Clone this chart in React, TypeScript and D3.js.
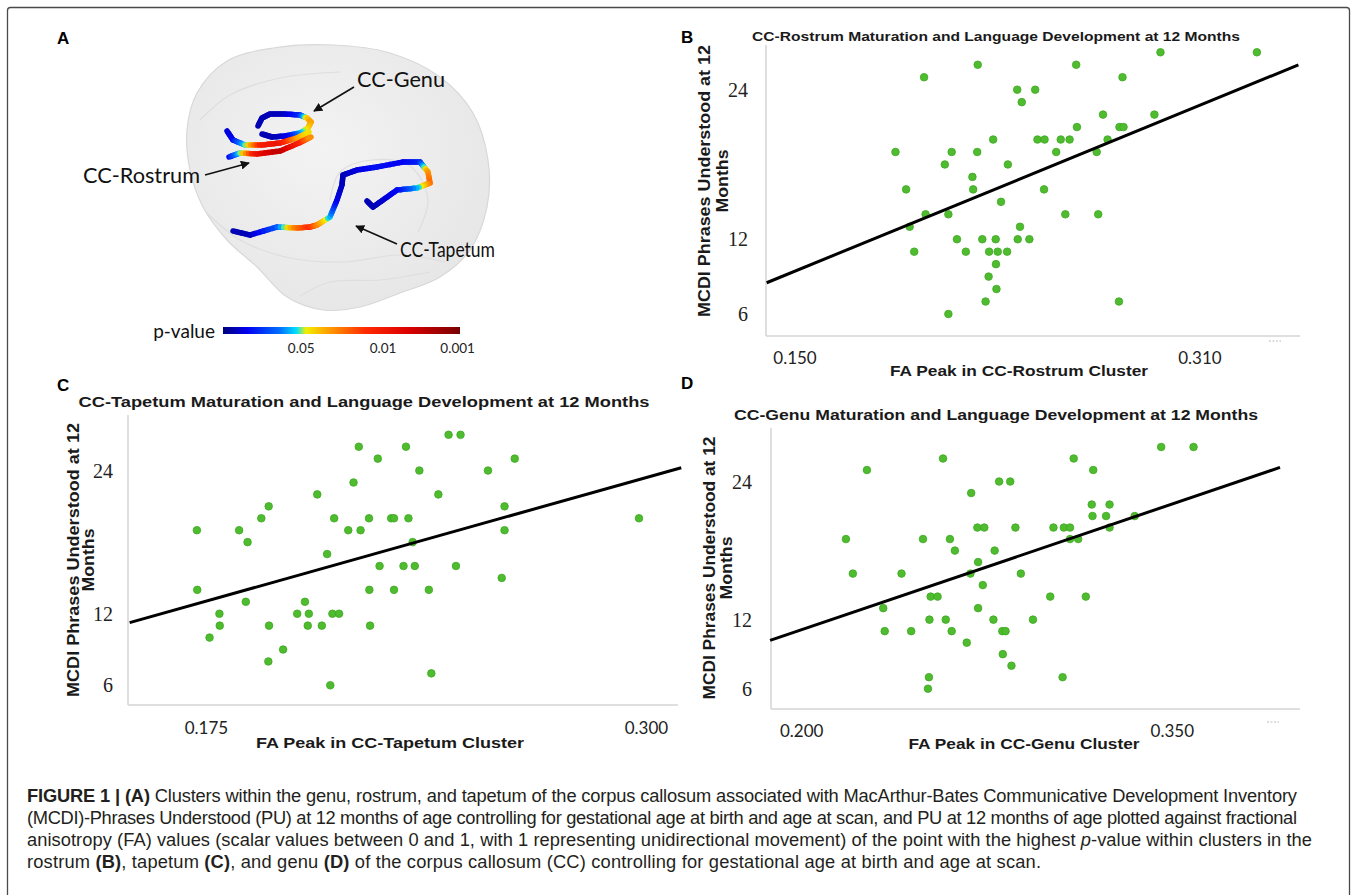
import React from "react"
import * as d3 from "d3"

const W = 1357
const H = 895

// PU score levels (MCDI phrases understood at 12 months), top row first
const puLevels = [27, 26, 25, 24, 23, 22, 21, 20, 19, 18, 17, 16, 15, 14, 13, 12, 11, 10, 9, 8, 7, 6]

// FA peak of every child, grouped by the PU level above
const rostrumFA = [
    [0.2944, 0.3325], [0.2222, 0.2611], [0.201, 0.2794], [0.2378, 0.2449], [0.2396],
    [0.2717, 0.292], [0.2614, 0.2782, 0.2798], [0.2283, 0.2458, 0.2486, 0.255, 0.2585, 0.2735],
    [0.1897, 0.2119, 0.222, 0.2532, 0.2692], [0.2092, 0.2341], [0.2201], [0.1939, 0.2204, 0.2484],
    [0.2314], [0.2016, 0.2106, 0.2568, 0.2698], [0.1953, 0.2389], [0.214, 0.224, 0.2293, 0.238, 0.2426],
    [0.1971, 0.2175, 0.2267, 0.2301, 0.2338], [0.2294], [0.2265], [0.2296], [0.2253, 0.278], [0.2106],
]
const tapetumFA = [
    [0.2438, 0.2472], [0.2183, 0.2317], [0.2237, 0.2626], [0.2355, 0.255], [0.2168],
    [0.2065, 0.2409], [0.1927, 0.2597], [0.1906, 0.2113, 0.2212, 0.2275, 0.2283, 0.2324, 0.2979],
    [0.1723, 0.1843, 0.2153, 0.2188, 0.2597], [0.1867, 0.2336], [0.2093], [0.2242, 0.231, 0.2342, 0.2459],
    [0.2589], [0.1724, 0.2213, 0.2283, 0.2382], [0.1862, 0.203], [0.1787, 0.2008, 0.2041, 0.2108, 0.2127],
    [0.1788, 0.1928, 0.2038, 0.2078, 0.2215], [0.1759], [0.1968], [0.1926], [0.2389], [0.2102],
]
const genuFA = [
    [0.3455, 0.3586], [0.2572, 0.3101], [0.2264, 0.318], [0.2799, 0.2844], [0.2686],
    [0.3174, 0.3246], [0.3177, 0.3232, 0.3348], [0.2711, 0.2739, 0.2865, 0.3019, 0.3061, 0.3086, 0.3246],
    [0.2179, 0.2491, 0.26, 0.3086, 0.3119], [0.262, 0.2781], [0.2714], [0.2207, 0.2404, 0.2683, 0.2887],
    [0.2733], [0.2522, 0.255, 0.3006, 0.315], [0.233, 0.2714], [0.2517, 0.2583, 0.2776, 0.2936],
    [0.2336, 0.2443, 0.2607, 0.2812, 0.2825], [0.2668], [0.2814], [0.2849], [0.2515, 0.3056], [0.2511],
]

// fitted lines [intercept, slope] and the FA span they are drawn over
const rostrumFit = [-3.04, 83.2]
const tapetumFit = [-1.45, 82.9]
const genuFit = [-3.44, 72.83]
const rostrumFitSpan = [0.1388, 0.3489]
const tapetumFitSpan = [0.1532, 0.3099]
const genuFitSpan = [0.1872, 0.3936]

const yTicks = [6, 12, 24]
const rostrumTicks = [0.15, 0.31]
const tapetumTicks = [0.175, 0.3]
const genuTicks = [0.2, 0.35]

// colour bar of panel A
const pLabels = ["0.05", "0.01", "0.001"]
const pLabelPos = [0.33, 0.675, 0.99]
const jetStops: [number, string][] = [
    [0, "#00007a"], [0.1, "#0000f0"], [0.24, "#0070ff"], [0.31, "#00e0ff"],
    [0.35, "#f2ef00"], [0.45, "#ff9a00"], [0.6, "#ff2a00"], [0.78, "#dc0000"], [1, "#780000"],
]

const jet = d3
    .scaleLinear<string>()
    .domain(jetStops.map(d => d[0]))
    .range(jetStops.map(d => d[1]))
    .clamp(true)

const BOLD = "'Liberation Sans', Arial, sans-serif"
const GREEN = "#4fbb2f"

const panels = [
    {
        letter: "B", lx: 681, ly: 37,
        fa: rostrumFA, fit: rostrumFit, span: rostrumFitSpan, ticks: rostrumTicks,
        xDom: [0.13854, 0.34953], yDom: [4.234, 27.586],
        left: 766, right: 1300, top: 45, bottom: 336,
        title: "CC-Rostrum Maturation and Language Development at 12 Months",
        tx: 996, ty: 36, tLen: 488, tSize: 13,
        xTitle: "FA Peak in CC-Rostrum Cluster", xtx: 1019, xty: 370, xtLen: 258,
        yx1: 704, yx2: 722, ycy: 181, ytLen: 272,
        yTickX: 748, xTickY: 357, faint: [1275, 341],
    },
    {
        letter: "C", lx: 57, ly: 385,
        fa: tapetumFA, fit: tapetumFit, span: tapetumFitSpan, ticks: tapetumTicks,
        xDom: [0.15273, 0.30898], yDom: [4.349, 28.657],
        left: 128, right: 678, top: 415, bottom: 705,
        title: "CC-Tapetum Maturation and Language Development at 12 Months",
        tx: 364, ty: 402, tLen: 571, tSize: 14.5,
        xTitle: "FA Peak in CC-Tapetum Cluster", xtx: 390, xty: 742, xtLen: 268,
        yx1: 73, yx2: 88, ycy: 560, ytLen: 274,
        yTickX: 113, xTickY: 727, faint: null,
    },
    {
        letter: "D", lx: 681, ly: 383,
        fa: genuFA, fit: genuFit, span: genuFitSpan, ticks: genuTicks,
        xDom: [0.18757, 0.40169], yDom: [4.236, 28.65],
        left: 771, right: 1300, top: 428, bottom: 709,
        title: "CC-Genu Maturation and Language Development at 12 Months",
        tx: 996, ty: 415, tLen: 524, tSize: 14.5,
        xTitle: "FA Peak in CC-Genu Cluster", xtx: 1024, xty: 743, xtLen: 231,
        yx1: 709, yx2: 726, ycy: 568, ytLen: 263,
        yTickX: 752, xTickY: 730, faint: [1273, 722],
    },
]

type Panel = (typeof panels)[number]

const Scatter = ({ p }: { p: Panel }) => {
    const x = d3.scaleLinear().domain(p.xDom).range([p.left, p.right])
    const y = d3.scaleLinear().domain(p.yDom).range([p.bottom, p.top])
    const pts = p.fa.flatMap((row, i) => row.map(fa => ({ fa, pu: puLevels[i] })))
    const fitLine = d3
        .line<number>()
        .x(d => x(d))
        .y(d => y(p.fit[0] + p.fit[1] * d))
    const fmt = d3.format(".3f")
    return (
        <g>
            <text x={p.lx} y={p.ly} fontFamily={BOLD} fontWeight="bold" fontSize={17} dominantBaseline="central">
                {p.letter}
            </text>
            <text x={p.tx} y={p.ty} fontFamily={BOLD} fontWeight="bold" fontSize={p.tSize} textAnchor="middle"
                dominantBaseline="central" textLength={p.tLen} lengthAdjust="spacingAndGlyphs" fill="#1a1a1a">
                {p.title}
            </text>
            <line x1={p.left} x2={p.left} y1={p.top} y2={p.bottom} stroke="#d4d4d4" strokeWidth={1.5} />
            <line x1={p.left} x2={p.right} y1={p.bottom} y2={p.bottom} stroke="#d4d4d4" strokeWidth={1.5} />
            {yTicks.map(t => (
                <text key={t} x={p.yTickX} y={y(t)} textAnchor="end" dominantBaseline="central"
                    fontFamily="'Liberation Serif', serif" fontSize={20} fill="#222">
                    {t}
                </text>
            ))}
            {p.ticks.map(t => (
                <text key={t} x={x(t)} y={p.xTickY} textAnchor="middle" dominantBaseline="central"
                    fontFamily="Lato, sans-serif" fontSize={17} fill="#222">
                    {fmt(t)}
                </text>
            ))}
            {p.faint && (
                <line x1={p.faint[0] - 6} x2={p.faint[0] + 6} y1={p.faint[1]} y2={p.faint[1]}
                    stroke="#bbb" strokeWidth={1} strokeDasharray="2,1.5" />
            )}
            <text x={p.xtx} y={p.xty} textAnchor="middle" dominantBaseline="central" fontFamily={BOLD}
                fontWeight="bold" fontSize={15.5} textLength={p.xtLen} lengthAdjust="spacingAndGlyphs" fill="#1a1a1a">
                {p.xTitle}
            </text>
            <g fontFamily={BOLD} fontWeight="bold" fontSize={17} fill="#1a1a1a">
                <text transform={`translate(${p.yx1},${p.ycy}) rotate(-90)`} textAnchor="middle"
                    dominantBaseline="central" textLength={p.ytLen} lengthAdjust="spacingAndGlyphs">
                    MCDI Phrases Understood at 12
                </text>
                <text transform={`translate(${p.yx2},${p.ycy}) rotate(-90)`} textAnchor="middle"
                    dominantBaseline="central" textLength={63} lengthAdjust="spacingAndGlyphs">
                    Months
                </text>
            </g>
            {pts.map((d, i) => (
                <circle key={i} cx={x(d.fa)} cy={y(d.pu)} r={3.8} fill={GREEN} stroke="#3ea822" strokeWidth={0.8} />
            ))}
            <path d={fitLine(p.span) || ""} stroke="#000" strokeWidth={3} fill="none" />
        </g>
    )
}

// brain silhouette and tract centre lines for panel A (page pixels)
const brainOutline: [number, number][] = [
    [273, 48], [227, 61], [197, 93], [187, 130], [190, 170], [203, 207], [227, 240], [257, 267],
    [287, 297], [323, 310], [360, 307], [400, 293], [440, 277], [470, 250], [487, 207], [488, 160],
    [473, 113], [440, 77], [390, 53], [333, 45],
]
const genuPath: [number, number][] = [
    [258, 126], [262, 118], [270, 114], [285, 114], [300, 115], [307, 118], [311, 122], [308, 128],
    [300, 133], [285, 136], [272, 137], [262, 134],
]
const genuVal = [0.05, 0.05, 0.05, 0.06, 0.15, 0.38, 0.45, 0.4, 0.3, 0.1, 0.05, 0.05]
const rostrumPathA: [number, number][] = [[227, 131], [233, 140], [245, 145], [262, 145], [280, 143], [297, 138], [309, 132]]
const rostrumValA = [0.08, 0.1, 0.3, 0.65, 0.7, 0.45, 0.36]
const rostrumPathB: [number, number][] = [[229, 157], [240, 153], [257, 154], [280, 151], [299, 143], [311, 137]]
const rostrumValB = [0.1, 0.3, 0.7, 0.85, 0.65, 0.45]
const tapetumPath: [number, number][] = [
    [233, 231], [250, 235], [277, 227], [297, 228], [310, 227], [317, 225], [330, 217], [337, 200],
    [342, 185], [343, 175], [357, 170], [377, 167], [403, 162], [420, 162], [428, 172], [430, 183],
    [417, 188], [397, 190], [383, 200], [373, 207], [367, 201],
]
const tapetumVal = [
    0.05, 0.05, 0.2, 0.5, 0.6, 0.5, 0.3, 0.1, 0.06, 0.05, 0.08, 0.12, 0.1, 0.14, 0.45, 0.52, 0.3, 0.12,
    0.08, 0.05, 0.05,
]

const Tract = ({ pts, vals }: { pts: [number, number][]; vals: number[] }) => {
    const segs: { a: [number, number]; b: [number, number]; v: number }[] = []
    const n = 6
    for (let i = 0; i < pts.length - 1; i++) {
        for (let k = 0; k < n; k++) {
            const t0 = k / n
            const t1 = (k + 1) / n
            const lerp = (t: number): [number, number] => [
                pts[i][0] + (pts[i + 1][0] - pts[i][0]) * t,
                pts[i][1] + (pts[i + 1][1] - pts[i][1]) * t,
            ]
            const tm = (t0 + t1) / 2
            segs.push({ a: lerp(t0), b: lerp(t1), v: vals[i] + (vals[i + 1] - vals[i]) * tm })
        }
    }
    return (
        <g strokeLinecap="round" strokeWidth={5.5}>
            {segs.map((s, i) => (
                <line key={i} x1={s.a[0]} y1={s.a[1]} x2={s.b[0]} y2={s.b[1]} stroke={jet(s.v)} />
            ))}
        </g>
    )
}

const BrainPanel = () => {
    const outline = d3.line().curve(d3.curveCatmullRomClosed)(brainOutline) || ""
    const curve = d3.line().curve(d3.curveCatmullRom)
    const cb = d3.scaleLinear().domain([0, 1]).range([223, 460])
    return (
        <g>
            <defs>
                <linearGradient id="jet" x1="0" x2="1" y1="0" y2="0">
                    {jetStops.map(([o, c]) => (
                        <stop key={o} offset={o} stopColor={c} />
                    ))}
                </linearGradient>
                <radialGradient id="brainFill" cx="0.45" cy="0.4" r="0.65">
                    <stop offset="0" stopColor="#f3f3f3" />
                    <stop offset="1" stopColor="#e6e6e6" />
                </radialGradient>
                <marker id="arrow" viewBox="0 0 10 10" refX="9" refY="5" markerWidth="9" markerHeight="9"
                    markerUnits="userSpaceOnUse" orient="auto">
                    <path d="M0,0 L10,5 L0,10 z" fill="#111" />
                </marker>
            </defs>
            <text x={57} y={38} fontFamily={BOLD} fontWeight="bold" fontSize={17} dominantBaseline="central">
                A
            </text>
            <path d={outline} fill="url(#brainFill)" stroke="#d8d8d8" strokeWidth={1.2} />
            <g fill="none" stroke="#dedede" strokeWidth={1.2}>
                <path d={curve([[206, 212], [240, 240], [290, 258], [345, 262], [400, 255], [445, 262]]) || ""} />
                <path d={curve([[300, 296], [330, 282], [380, 280], [430, 272]]) || ""} />
                <path d={curve([[330, 200], [340, 172], [372, 160], [410, 166], [428, 200], [418, 232]]) || ""} />
                <path d={curve([[200, 120], [230, 95], [280, 78], [340, 72]]) || ""} />
            </g>
            <Tract pts={genuPath} vals={genuVal} />
            <Tract pts={rostrumPathA} vals={rostrumValA} />
            <Tract pts={rostrumPathB} vals={rostrumValB} />
            <Tract pts={tapetumPath} vals={tapetumVal} />

            <g fontFamily="Lato, sans-serif" fill="#111">
                <text x={357} y={78} fontSize={21} dominantBaseline="central" textLength={88}
                    lengthAdjust="spacingAndGlyphs">CC-Genu</text>
                <text x={83} y={174} fontSize={21} dominantBaseline="central" textLength={117}
                    lengthAdjust="spacingAndGlyphs">CC-Rostrum</text>
                <text x={400} y={248} fontSize={21} dominantBaseline="central" textLength={95}
                    lengthAdjust="spacingAndGlyphs">CC-Tapetum</text>
                <text x={215} y={330} fontSize={19} textAnchor="end" dominantBaseline="central">p-value</text>
                {pLabels.map((l, i) => (
                    <text key={l} x={cb(pLabelPos[i])} y={348} fontSize={13.5} textAnchor="middle"
                        dominantBaseline="central" fill="#222">{l}</text>
                ))}
            </g>
            <g stroke="#111" strokeWidth={1.6} markerEnd="url(#arrow)">
                <line x1={354} y1={87} x2={314} y2={111} />
                <line x1={205} y1={175} x2={249} y2={163} />
                <line x1={397} y1={244} x2={356} y2={226} />
            </g>
            <rect x={cb(0)} y={327} width={cb(1) - cb(0)} height={7} fill="url(#jet)" />
        </g>
    )
}

const Caption = () => (
    <g fontFamily="'Liberation Sans', Arial, sans-serif" fontSize={18.3} fill="#231f20">
        <text x={27} y={802} textLength={1270} lengthAdjust="spacing">
            <tspan fontWeight="bold">FIGURE 1 | (A)</tspan> Clusters within the genu, rostrum, and tapetum of the
            corpus callosum associated with MacArthur-Bates Communicative Development Inventory
        </text>
        <text x={27} y={824} textLength={1270} lengthAdjust="spacing">
            (MCDI)-Phrases Understood (PU) at 12 months of age controlling for gestational age at birth and age at
            scan, and PU at 12 months of age plotted against fractional
        </text>
        <text x={27} y={846} textLength={1285} lengthAdjust="spacing">
            anisotropy (FA) values (scalar values between 0 and 1, with 1 representing unidirectional movement) of
            the point with the highest <tspan fontStyle="italic">p</tspan>-value within clusters in the
        </text>
        <text x={27} y={868} textLength={1014} lengthAdjust="spacing">
            rostrum <tspan fontWeight="bold">(B)</tspan>, tapetum <tspan fontWeight="bold">(C)</tspan>, and genu{" "}
            <tspan fontWeight="bold">(D)</tspan> of the corpus callosum (CC) controlling for gestational age at
            birth and age at scan.
        </text>
    </g>
)

const App: React.FC = () => (
    <svg width={W} height={H} style={{ position: "absolute", left: 0, top: 0, background: "#fff" }}>
        <rect x={7.5} y={7.5} width={1342} height={900} fill="#fff" stroke="#4a4a4a" strokeWidth={1.3} rx={3} />
        <BrainPanel />
        {panels.map(p => (
            <Scatter key={p.letter} p={p} />
        ))}
        <Caption />
    </svg>
)

export default App
